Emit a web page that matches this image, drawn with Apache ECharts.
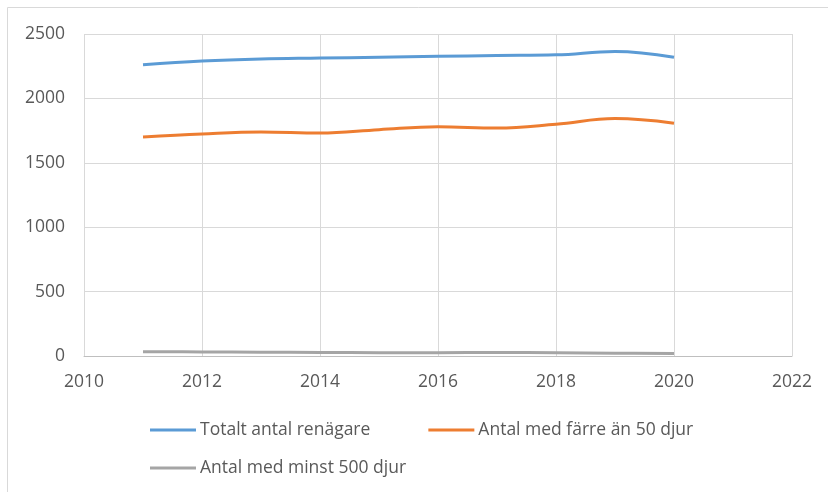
<!DOCTYPE html>
<html>
<head>
<meta charset="utf-8">
<script src="https://cdn.jsdelivr.net/npm/echarts@6/dist/echarts.min.js"></script>
<style>
html, body { margin: 0; padding: 0; background: #fff; }
#chart { width: 828px; height: 492px; }
</style>
</head>
<body>
<div id="chart"></div>
<script>
var years = [2011, 2012, 2013, 2014, 2015, 2016, 2017, 2018, 2019, 2020];
var totalt = [2262, 2290, 2306, 2313, 2320, 2327, 2333, 2338, 2364, 2320];
var farre50 = [1700, 1724, 1739, 1731, 1757, 1780, 1770, 1799, 1843, 1807];
var minst500 = [33, 32, 29, 28, 26, 26, 27, 26, 22, 20];
var names = ['Totalt antal renägare', 'Antal med färre än 50 djur', 'Antal med minst 500 djur'];
var colors = ['#5b9bd5', '#ed7d31', '#a5a5a5'];

function pairs(vals) {
    return years.map(function (y, i) { return [y, vals[i]]; });
}

var font = 'Open Sans';
var textColor = '#595959';

var legendBase = {
    left: 145,
    icon: 'rect',
    itemWidth: 46,
    itemHeight: 3,
    itemGap: 58,
    textStyle: { fontFamily: font, fontSize: 17.5, color: textColor, padding: [0, 0, 0, -1] }
};

var myChart = echarts.init(document.getElementById('chart'));
var option = {
    animation: false,
    color: colors,
    graphic: [{
        type: 'rect',
        shape: { x: 7.5, y: 7.5, width: 840, height: 500 },
        style: { fill: 'none', stroke: '#d9d9d9', lineWidth: 1 }
    }],
    grid: { left: 84, right: 36, top: 34, bottom: 136 },
    legend: [
        Object.assign({ top: 416, data: [names[0], names[1]] }, legendBase),
        Object.assign({ top: 454, data: [names[2]] }, legendBase)
    ],
    xAxis: {
        type: 'value',
        min: 2010,
        max: 2022,
        interval: 2,
        axisLine: { show: true, lineStyle: { color: '#bfbfbf', width: 1 } },
        axisTick: { show: false },
        axisLabel: { fontFamily: font, fontSize: 17.5, color: textColor, margin: 17, formatter: function (v) { return String(v); } },
        splitLine: { show: true, lineStyle: { color: '#d9d9d9', width: 1 } }
    },
    yAxis: {
        type: 'value',
        min: 0,
        max: 2500,
        interval: 500,
        axisLine: { show: false },
        axisTick: { show: false },
        axisLabel: { fontFamily: font, fontSize: 17.5, color: textColor, margin: 19, formatter: function (v) { return String(v); } },
        splitLine: { show: true, lineStyle: { color: '#d9d9d9', width: 1 } }
    },
    series: [
        { name: names[0], type: 'line', smooth: 0.4, showSymbol: false, lineStyle: { width: 3 }, data: pairs(totalt) },
        { name: names[1], type: 'line', smooth: 0.4, showSymbol: false, lineStyle: { width: 3 }, data: pairs(farre50) },
        { name: names[2], type: 'line', smooth: 0.4, showSymbol: false, lineStyle: { width: 3 }, data: pairs(minst500) }
    ]
};
myChart.setOption(option);
</script>
</body>
</html>
